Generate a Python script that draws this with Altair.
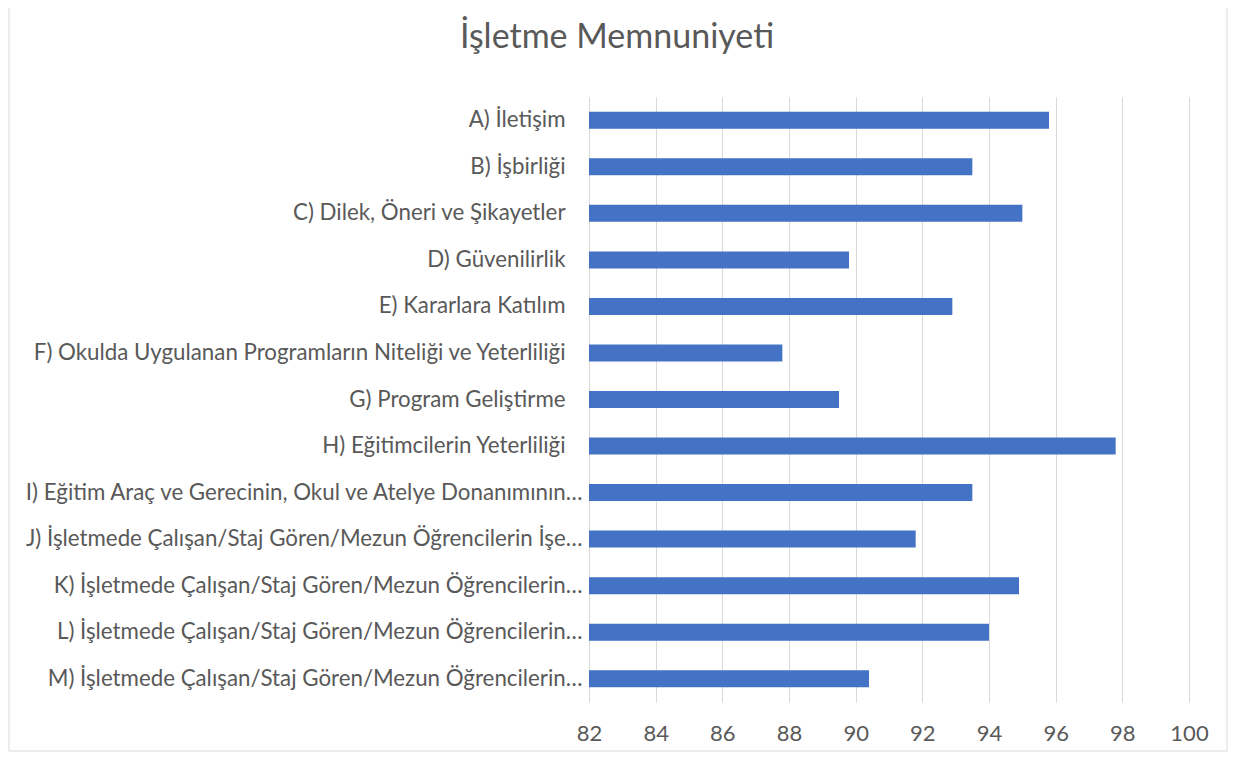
import altair as alt
import pandas as pd

categories = [
    "A) İletişim",
    "B) İşbirliği",
    "C) Dilek, Öneri ve Şikayetler",
    "D) Güvenilirlik",
    "E) Kararlara Katılım",
    "F) Okulda Uygulanan Programların Niteliği ve Yeterliliği",
    "G) Program Geliştirme",
    "H) Eğitimcilerin Yeterliliği",
    "I) Eğitim Araç ve Gerecinin, Okul ve Atelye Donanımının…",
    "J) İşletmede Çalışan/Staj Gören/Mezun Öğrencilerin İşe…",
    "K) İşletmede Çalışan/Staj Gören/Mezun Öğrencilerin…",
    "L) İşletmede Çalışan/Staj Gören/Mezun Öğrencilerin…",
    "M) İşletmede Çalışan/Staj Gören/Mezun Öğrencilerin…",
]
values = [95.8, 93.5, 95.0, 89.8, 92.9, 87.8, 89.5, 97.8, 93.5, 91.8, 94.9, 94.0, 90.4]
x_ticks = [82, 84, 86, 88, 90, 92, 94, 96, 98, 100]

df = pd.DataFrame({"kategori": categories, "deger": values})

FONT = "Lato"
TXT = "#595959"

bars = alt.Chart(df).mark_bar(color="#4472C4", clip=True).encode(
    y=alt.Y(
        "kategori:N",
        sort=None,
        title=None,
        scale=alt.Scale(paddingInner=0.635, paddingOuter=0.3175),
        axis=alt.Axis(
            domain=False, ticks=False, labelLimit=800,
            labelPadding={"condition": {"test": "indexof(datum.label, '…') >= 0", "value": 7}, "value": 24},
            labelFont=FONT, labelFontSize=22.3, labelColor=TXT, grid=False,
        ),
    ),
    x=alt.X(
        "deger:Q",
        title=None,
        scale=alt.Scale(domain=[82, 100], zero=False, nice=False),
        axis=alt.Axis(
            values=x_ticks, domain=False, ticks=False, labelPadding=21,
            labelFlush=False, labelOverlap=False,
            labelFont=FONT, labelFontSize=22, labelColor=TXT,
            grid=True, gridColor="#d9d9d9", gridWidth=1,
        ),
    ),
)

frame = alt.Chart(pd.DataFrame({"k": [0]})).mark_rect(
    filled=False, stroke="#d9d9d9", strokeWidth=1
).encode(
    x=alt.value(-580), x2=alt.value(638), y=alt.value(-100), y2=alt.value(654)
)

chart = alt.layer(frame, bars).properties(
    width=600,
    height=605,
    autosize=alt.AutoSizeParams(type="none"),
    padding={"left": 581, "top": 89, "right": 39, "bottom": 50},
    title=alt.TitleParams(
        "İşletme Memnuniyeti", font=FONT, fontSize=34, fontWeight="normal",
        color=TXT, anchor="middle", dx=-272, offset=-85, baseline="alphabetic",
    ),
).configure(background="white").configure_view(stroke=None)

chart.save("out.html", embed_options={"renderer": "svg", "actions": False})
